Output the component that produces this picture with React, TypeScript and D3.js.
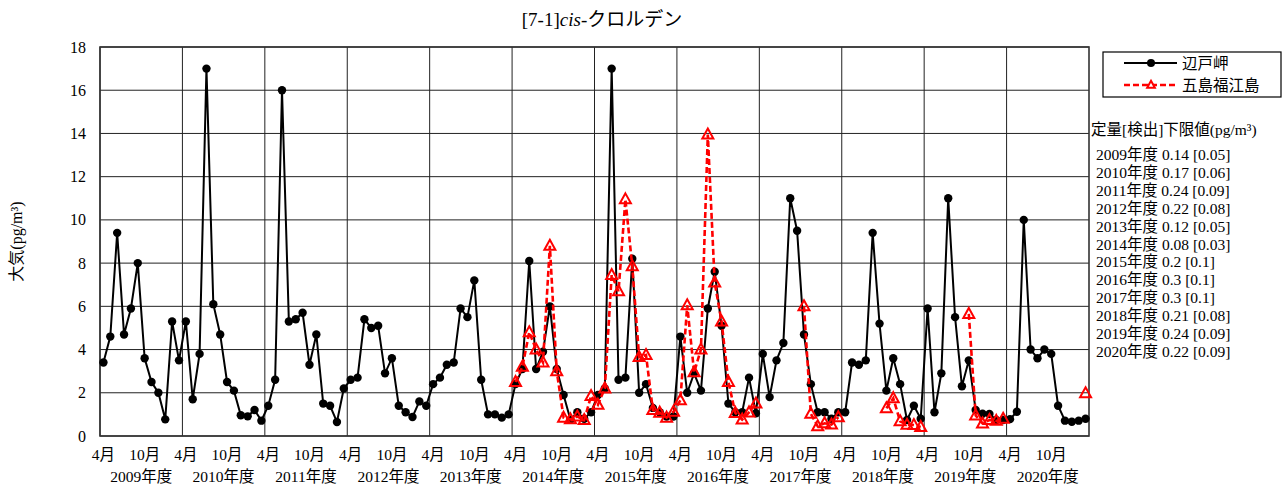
import React from "react";
import * as d3 from "d3";

const years = [2009, 2010, 2011, 2012, 2013, 2014, 2015, 2016, 2017, 2018, 2019, 2020];
const monthTickLabels = ["4月", "10月"];
const yTicks = [0, 2, 4, 6, 8, 10, 12, 14, 16, 18];
const seriesNames = ["辺戸岬", "五島福江島"];
const title = "[7-1]";
const titleItalic = "cis";
const titleRest = "-クロルデン";
const yLabel = "大気(pg/m³)";
const limitHeader = "定量[検出]下限値(pg/m³)";
const limitLines = [
  "2009年度 0.14 [0.05]",
  "2010年度 0.17 [0.06]",
  "2011年度 0.24 [0.09]",
  "2012年度 0.22 [0.08]",
  "2013年度 0.12 [0.05]",
  "2014年度 0.08 [0.03]",
  "2015年度 0.2 [0.1]",
  "2016年度 0.3 [0.1]",
  "2017年度 0.3 [0.1]",
  "2018年度 0.21 [0.08]",
  "2019年度 0.24 [0.09]",
  "2020年度 0.22 [0.09]",
];

// 辺戸岬 monthly values (April of 2009 through March of 2021)
const hedo: (number | null)[] = [
  3.4, 4.6, 9.4, 4.7, 5.9, 8.0, 3.6, 2.5, 2.0, 0.77, 5.3, 3.5,
  5.3, 1.7, 3.8, 17.0, 6.1, 4.7, 2.5, 2.1, 0.96, 0.91, 1.2, 0.71,
  1.4, 2.6, 16.0, 5.3, 5.4, 5.7, 3.3, 4.7, 1.5, 1.4, 0.65, 2.2,
  2.6, 2.7, 5.4, 5.0, 5.1, 2.9, 3.6, 1.4, 1.1, 0.88, 1.6, 1.4,
  2.4, 2.7, 3.3, 3.4, 5.9, 5.5, 7.2, 2.6, 1.0, 1.0, 0.85, 1.0,
  2.4, 3.1, 8.1, 3.1, 3.9, 6.0, 3.1, 1.9, 0.75, 1.1, 0.8, 1.1,
  1.9, 2.2, 17.0, 2.6, 2.7, 8.2, 2.0, 2.4, 1.3, 1.1, 0.9, 0.9,
  4.6, 2.0, 2.9, 2.1, 5.9, 7.6, 5.1, 1.5, 1.1, 1.1, 2.7, 1.05,
  3.8, 1.8, 3.5, 4.3, 11.0, 9.5, 4.7, 2.4, 1.1, 1.1, 0.8, 1.1,
  1.1, 3.4, 3.3, 3.5, 9.4, 5.2, 2.1, 3.6, 2.4, 0.74, 1.4, 0.8,
  5.9, 1.1, 2.9, 11.0, 5.5, 2.3, 3.5, 1.2, 1.03, 1.02, 0.74, 0.74,
  0.78, 1.12, 10.0, 4.0, 3.6, 4.0, 3.8, 1.4, 0.71, 0.66, 0.71, 0.8,
];

// 五島福江島 monthly values
const N = null;
const fukue: (number | null)[] = [
  N, N, N, N, N, N, N, N, N, N, N, N,
  N, N, N, N, N, N, N, N, N, N, N, N,
  N, N, N, N, N, N, N, N, N, N, N, N,
  N, N, N, N, N, N, N, N, N, N, N, N,
  N, N, N, N, N, N, N, N, N, N, N, N,
  2.5, 3.2, 4.8, 4.0, 3.4, 8.8, 3.0, 0.85, 0.77, 0.9, 0.74, 1.85,
  1.45, 2.2, 7.45, 6.7, 10.95, 7.85, 3.65, 3.75, 1.2, 1.08, 0.85, 1.12,
  1.65, 6.05, 2.95, 4.0, 13.95, 7.1, 5.3, 2.5, 1.07, 0.76, 1.09, 1.5,
  N, N, N, N, N, N, 6.0, 1.03, 0.45, 0.59, 0.53, 0.87,
  N, N, N, N, N, N, 1.28, 1.75, 0.68, 0.52, 0.51, 0.42,
  N, N, N, N, N, N, 5.65, 0.95, 0.58, 0.74, 0.7, 0.8,
  N, N, N, N, N, N, N, N, N, N, N, 1.98,
];

const W = 1284;
const H = 488;
const left = 100;
const right = 1089;
const top = 47;
const bottom = 436;
const FONT = "'Liberation Serif', 'Times New Roman', 'Noto Sans CJK JP', serif";

const months = d3.range(years.length * 12);
const x = d3.scaleBand<number>().domain(months).range([left, right]).padding(0);
const cx = (i: number) => (x(i) as number) + x.bandwidth() / 2;
const y = d3.scaleLinear().domain([0, 18]).range([bottom, top]);

const lineGen = d3
  .line<number | null>()
  .defined((d) => d !== null)
  .x((_, i) => cx(i))
  .y((d) => y(d as number));

const triPath = (px: number, py: number, s = 1) =>
  `M${px},${py - 6 * s}L${px + 5.5 * s},${py + 4 * s}L${px - 5.5 * s},${py + 4 * s}Z`;

export default function App() {
  const yearW = (right - left) / years.length;
  return (
    <svg
      width={W}
      height={H}
      style={{ position: "absolute", left: 0, top: 0, background: "#fff" }}
      fontFamily={FONT}
    >
      <rect x={0} y={0} width={W} height={H} fill="#fff" />
      {/* title */}
      <text x={602} y={26} textAnchor="middle" fontSize={19} fill="#000">
        {title}
        <tspan fontStyle="italic">{titleItalic}</tspan>
        {titleRest}
      </text>

      {/* horizontal gridlines */}
      {yTicks.map((t) => (
        <line key={"h" + t} x1={left} x2={right} y1={y(t)} y2={y(t)} stroke="#222" strokeWidth={1} />
      ))}
      {/* vertical year lines */}
      {years.map((yr, k) => (
        <line
          key={"v" + yr}
          x1={x(k * 12) as number}
          x2={x(k * 12) as number}
          y1={top}
          y2={bottom}
          stroke="#222"
          strokeWidth={1}
        />
      ))}
      <rect x={left} y={top} width={right - left} height={bottom - top} fill="none" stroke="#333" strokeWidth={1.6} />

      {/* y tick labels */}
      {yTicks.map((t) => (
        <text key={"yt" + t} x={86} y={y(t) + 5.5} textAnchor="end" fontSize={16} fill="#000">
          {t}
        </text>
      ))}
      <text
        transform={`translate(22,${(top + bottom) / 2}) rotate(-90)`}
        textAnchor="middle"
        fontSize={16}
        fill="#000"
      >
        {yLabel}
      </text>

      {/* x labels */}
      {years.map((yr, k) => (
        <g key={"xl" + yr}>
          {monthTickLabels.map((m, j) => (
            <text key={m} x={cx(k * 12 + j * 6)} y={460} textAnchor="middle" fontSize={15.5} fill="#000">
              {m}
            </text>
          ))}
          <text x={left + yearW * (k + 0.5)} y={482} textAnchor="middle" fontSize={15.5} fill="#000">
            {yr + "年度"}
          </text>
        </g>
      ))}

      {/* black series */}
      <path d={lineGen(hedo) || ""} fill="none" stroke="#000" strokeWidth={2} />
      {hedo.map((v, i) =>
        v === null ? null : <circle key={"c" + i} cx={cx(i)} cy={y(v)} r={4.2} fill="#000" />
      )}

      {/* red series */}
      <path d={lineGen(fukue) || ""} fill="none" stroke="#ff0000" strokeWidth={2.6} strokeDasharray="6,3" />
      {fukue.map((v, i) =>
        v === null ? null : (
          <path key={"t" + i} d={triPath(cx(i), y(v))} fill="none" stroke="#ff0000" strokeWidth={2} />
        )
      )}

      {/* legend */}
      <rect x={1103} y={52} width={178} height={45} fill="#fff" stroke="#000" strokeWidth={1.2} />
      <line x1={1124} x2={1177} y1={63} y2={63} stroke="#000" strokeWidth={2} />
      <circle cx={1151} cy={63} r={4} fill="#000" />
      <text x={1182} y={68.5} fontSize={15.5} fill="#000">
        {seriesNames[0]}
      </text>
      <line x1={1124} x2={1177} y1={85} y2={85} stroke="#ff0000" strokeWidth={2.6} strokeDasharray="6,3" />
      <path d={triPath(1151, 85, 0.7)} fill="#fff" stroke="#ff0000" strokeWidth={2} />
      <text x={1182} y={90.5} fontSize={15.5} fill="#000">
        {seriesNames[1]}
      </text>

      {/* limits text */}
      <text x={1091} y={135} fontSize={15.5} fill="#000">
        {limitHeader}
      </text>
      {limitLines.map((s, i) => (
        <text key={s} x={1096} y={160 + i * 17.9} fontSize={15.5} fill="#000">
          {s}
        </text>
      ))}
    </svg>
  );
}
